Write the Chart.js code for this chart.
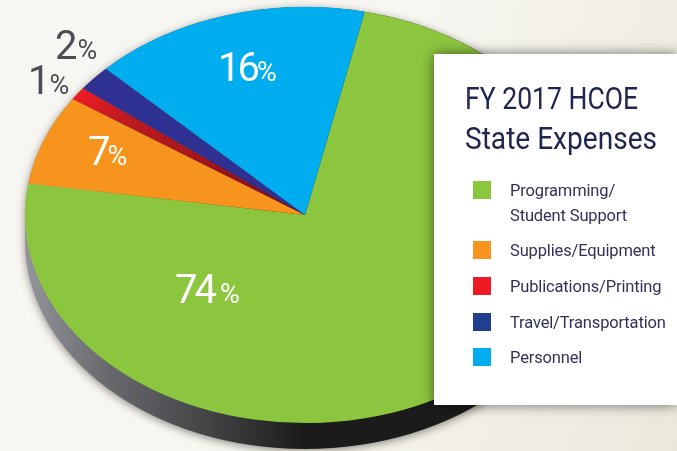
<!DOCTYPE html>
<html>
<head>
<meta charset="utf-8">
<script src="https://cdn.jsdelivr.net/npm/chart.js@4"></script>
<style>
    html, body { margin: 0; padding: 0; }
    #stage {
        position: relative; width: 677px; height: 451px; overflow: hidden;
        background: linear-gradient(110deg, #f7f6f2 0%, #f7f6f1 50%, #ebe8db 100%);
        font-family: Roboto, sans-serif;
    }
    #pie { position: absolute; left: 0; top: 0; }
    #panel {
        position: absolute; left: 434px; top: 54px; width: 243px; height: 351px;
        background: #fff; box-shadow: 0 0 12px rgba(0, 0, 0, 0.55);
    }
    .txt { position: absolute; white-space: nowrap; line-height: 1; transform-origin: left center; }
    .swatch { position: absolute; width: 18px; height: 18px; }
</style>
</head>
<body>
<div id="stage">
    <canvas id="pie" width="677" height="451"></canvas>
    <div id="panel"></div>
</div>
<script>
// Data
const categories = ["Programming/\nStudent Support", "Supplies/Equipment", "Publications/Printing", "Travel/Transportation", "Personnel"];
const expenses = [74, 7, 1, 2, 16];
const colors = ["#8cc63f", "#f7941d", "#ed1c24", "#2e3192", "#00aeef"];
const swatchColors = ["#8cc63f", "#f7941d", "#ed1c24", "#223f8f", "#00aeef"];
const chartTitle = ["FY 2017 HCOE", "State Expenses"];

// Layout of the page around the pie
const centerX = 305, centerY = 215, radius = 280, tilt = 0.743, depth = 26;
const valueSpots = [[175, 304, "#fff"], [88, 166, "#fff"], [28, 95, "#4d4d4f"], [55, 60, "#4d4d4f"], [218, 82, "#fff"]];
const percentGaps = [6, 0, 2, 3, 0];
const legendTops = [181, 241, 277, 313, 348];
const titleWidths = [173, 192];

const stage = document.getElementById("stage");

// Text helper, y is the baseline
function addText(html, x, y, size, color, extra) {
    const el = document.createElement("div");
    el.className = "txt";
    el.innerHTML = html;
    el.style.left = x + "px";
    el.style.top = (y - size * 0.841) + "px";
    el.style.fontSize = size + "px";
    el.style.color = color;
    if (extra) el.style.cssText += extra;
    stage.appendChild(el);
    return el;
}

// Red slice fades darker towards the middle
function sliceColor(context) {
    if (context.dataIndex !== 2) return colors[context.dataIndex];
    const grad = context.chart.ctx.createRadialGradient(centerX, centerY, 0, centerX, centerY, radius);
    grad.addColorStop(0, "#7d1014");
    grad.addColorStop(0.8, "#bf1a20");
    grad.addColorStop(1, "#ed1c24");
    return grad;
}

// Squash the pie into an ellipse and draw the dark rim under it
const tiltPlugin = {
    id: "tilt",
    beforeDatasetsDraw(chart) {
        const ctx = chart.ctx;
        const arc = chart.getDatasetMeta(0).data[0];
        const rx = arc.outerRadius, ry = rx * tilt;

        const rim = ctx.createLinearGradient(arc.x - rx, 0, arc.x, 0);
        rim.addColorStop(0, "#94959b");
        rim.addColorStop(0.3, "#68696d");
        rim.addColorStop(0.65, "#434446");
        rim.addColorStop(1, "#1c1b1c");

        ctx.save();
        ctx.shadowColor = "rgba(60, 55, 40, 0.55)";
        ctx.shadowBlur = 9;
        ctx.shadowOffsetY = 2;
        ctx.fillStyle = rim;
        ctx.beginPath();
        ctx.ellipse(arc.x, arc.y + depth, rx, ry, 0, 0, Math.PI);
        ctx.lineTo(arc.x - rx, arc.y);
        ctx.ellipse(arc.x, arc.y, rx, ry, 0, Math.PI, 2 * Math.PI);
        ctx.closePath();
        ctx.fill();
        ctx.restore();

        ctx.save();
        ctx.translate(arc.x, arc.y);
        ctx.scale(1, tilt);
        ctx.translate(-arc.x, -arc.y);
    },
    afterDatasetsDraw(chart) {
        chart.ctx.restore();
    }
};

new Chart(document.getElementById("pie").getContext("2d"), {
    type: "pie",
    data: {
        labels: categories,
        datasets: [{
            data: expenses,
            backgroundColor: sliceColor,
            borderWidth: 0,
            clip: false
        }]
    },
    options: {
        responsive: false,
        animation: false,
        rotation: 12.3,
        radius: radius,
        layout: { padding: { left: 0, top: 0, right: 677 - 2 * centerX, bottom: 451 - 2 * centerY } },
        plugins: { legend: { display: false }, tooltip: { enabled: false } }
    },
    plugins: [tiltPlugin]
});

// Percent labels
expenses.forEach((value, i) => {
    const [x, y, color] = valueSpots[i];
    addText(`${value}<span style="font-size:27px;letter-spacing:0;margin-left:${percentGaps[i]}px">%</span>`, x, y, 40, color, "letter-spacing:-3px;");
});

// Title, squeezed to the width of the narrower lettering in the picture
chartTitle.forEach((line, i) => {
    const el = addText(line, 465, 109 + i * 40, 31, "#20264f");
    el.style.transform = `scaleX(${titleWidths[i] / el.offsetWidth})`;
});

// Legend
categories.forEach((name, i) => {
    const box = document.createElement("div");
    box.className = "swatch";
    box.style.left = "473px";
    box.style.top = legendTops[i] + "px";
    box.style.background = swatchColors[i];
    stage.appendChild(box);
    name.split("\n").forEach((line, n) => {
        addText(line, 510, legendTops[i] + 15.5 + n * 25, 16.5, "#2f3358", "letter-spacing:-0.15px;");
    });
});
</script>
</body>
</html>
